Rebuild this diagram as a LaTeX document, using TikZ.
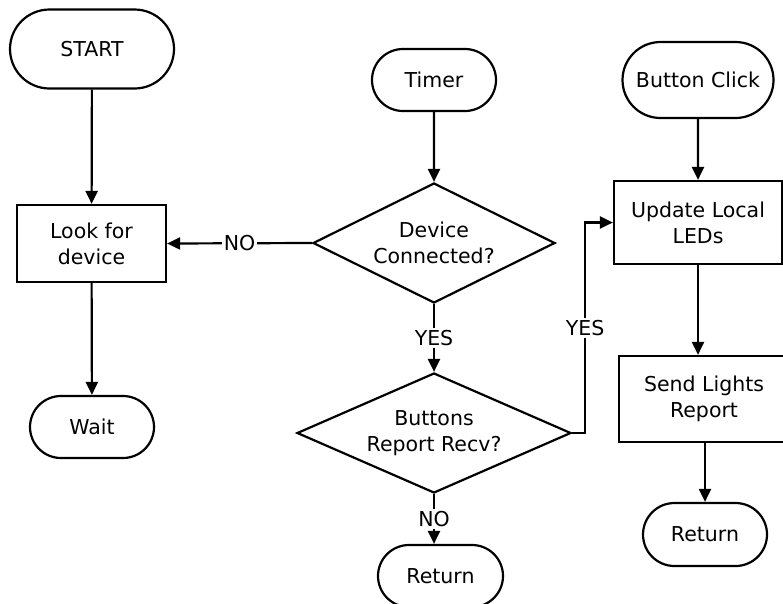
\documentclass[tikz,border=0pt]{standalone}
\usepackage{fontspec}
\setmainfont{DejaVu Sans}
\usetikzlibrary{shapes.geometric,shapes.misc,arrows.meta}
\begin{document}
\begin{tikzpicture}[x=1pt,y=-1pt,
 every node/.style={font=\fontsize{20.5}{26}\selectfont,align=center},
 term/.style={rounded rectangle,draw,line width=2.2pt,inner sep=0pt},
 proc/.style={rectangle,draw,line width=2.2pt,inner sep=0pt},
 dec/.style={diamond,draw,line width=2.2pt,inner sep=0pt},
 flow/.style={line width=2.2pt,-{Triangle[length=13pt,width=12pt]}},
 lab/.style={fill=white,inner sep=2pt}
]
 \useasboundingbox (0,0) rectangle (783,603);
 \node[term,minimum width=164,minimum height=79] (start) at (92,49) {START};
 \node[proc,minimum width=149,minimum height=77] (look) at (91.5,243.5) {Look for\\device};
 \node[term,minimum width=124,minimum height=62] (wait) at (92,427) {Wait};
 \node[term,minimum width=124,minimum height=62] (timer) at (434,80) {Timer};
 \node[dec,aspect=2,minimum width=242,minimum height=120] (conn) at (434,243) {Device\\Connected?};
 \node[dec,aspect=2.3,minimum width=274,minimum height=120] (btns) at (434,433) {Buttons\\Report Recv?};
 \node[term,minimum width=125,minimum height=62] (ret1) at (440.5,576) {Return};
 \node[term,minimum width=151,minimum height=76] (click) at (698,80) {Button Click};
 \node[proc,minimum width=168,minimum height=83] (upd) at (698,222.5) {Update Local\\LEDs};
 \node[proc,minimum width=170,minimum height=86] (send) at (704,399) {Send Lights\\Report};
 \node[term,minimum width=124,minimum height=63] (ret2) at (705,534.5) {Return};
 \draw[flow] (start)--(look);
 \draw[flow] (look)--(wait);
 \draw[flow] (timer)--(conn);
 \draw[flow] (conn.west)--node[lab] {NO} (look.east);
 \draw[flow] (conn.south)--node[lab] {YES} (btns.north);
 \draw[flow] (btns.south)--node[lab] {NO} (btns.south |- ret1.north);
 \draw[flow] (btns.east)--++(13,0) |- node[lab,pos=0.25] {YES} (upd.west);
 \draw[flow] (click)--(upd);
 \draw[flow] (upd.south)--(upd.south |- send.north);
 \draw[flow] (send.south -| ret2.north)--(ret2.north);
\end{tikzpicture}
\end{document}
